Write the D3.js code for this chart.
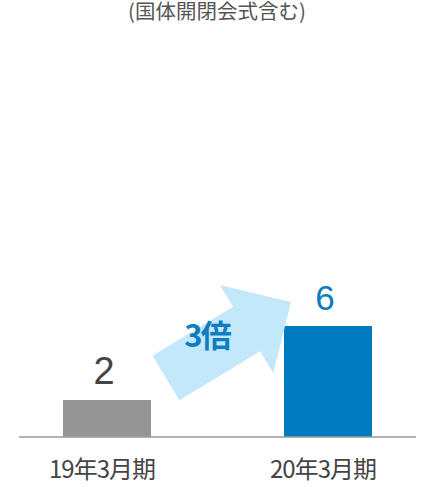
<!DOCTYPE html>
<html><head><meta charset="utf-8">
<script src="https://cdn.jsdelivr.net/npm/d3@7"></script>
<style>html,body{margin:0;padding:0;background:#fff;}svg{display:block;}</style>
</head><body>
<svg id="chart" width="425" height="487"></svg>
<script>
const categories = ["19年3月期", "20年3月期"];
const values = [2, 6];
const valueLabels = ["2", "6"];
const barColors = ["#959595", "#007bbf"];
const subtitle = "(国体開閉会式含む)";
const ratioLabel = "3倍";

const W = 425, H = 487;
const svg = d3.select("#chart");
const jp = "'Noto Sans CJK JP', 'Liberation Sans', sans-serif";
const num = "'Liberation Sans', 'Noto Sans CJK JP', sans-serif";

const baseY = 437;
const x = d3.scaleBand().domain(categories).range([63, 372]).paddingInner(0.6018).paddingOuter(0);
const y = d3.scaleLinear().domain([0, 6]).range([baseY, 326]);

// subtitle
svg.append("text").attr("x", 217).attr("y", 19).attr("text-anchor", "middle")
  .attr("font-family", jp).attr("font-size", 20.5).attr("fill", "#555").text(subtitle);

// bars
svg.selectAll("rect.bar").data(values).join("rect").attr("class", "bar")
  .attr("x", (d, i) => x(categories[i])).attr("width", x.bandwidth())
  .attr("y", d => y(d)).attr("height", d => baseY - y(d))
  .attr("fill", (d, i) => barColors[i]);

// axis line
svg.append("line").attr("x1", 19).attr("x2", 416).attr("y1", baseY).attr("y2", baseY)
  .attr("stroke", "#9a9a9a").attr("stroke-width", 1.5);

// value labels
svg.selectAll("text.val").data(values).join("text").attr("class", "val")
  .attr("x", (d, i) => x(categories[i]) + x.bandwidth() / 2 - 3)
  .attr("y", d => y(d) - 16)
  .attr("text-anchor", "middle").attr("font-family", num)
  .attr("font-size", (d, i) => i === 0 ? 38 : 35)
  .attr("fill", (d, i) => i === 0 ? "#444" : "#0a7cc0")
  .text((d, i) => valueLabels[i]);

// category labels
svg.selectAll("text.cat").data(categories).join("text").attr("class", "cat")
  .attr("x", d => x(d) + x.bandwidth() / 2 - 5).attr("y", 478)
  .attr("text-anchor", "middle").attr("font-family", jp).attr("font-size", 24)
  .attr("letter-spacing", -1).attr("fill", "#444").text(d => d);

// arrow (derived from bar positions)
const tail = [x(categories[0]) + x.bandwidth() + 15, y(values[0]) - 22];
const tip = [x(categories[1]) + 7, y(values[1]) - 24];
const dx = tip[0] - tail[0], dy = tip[1] - tail[1];
const len = Math.hypot(dx, dy), ang = Math.atan2(dy, dx) * 180 / Math.PI;
const shaftW = 52, headW = 103, headL = 52;
const pts = [[0, -shaftW / 2], [len - headL, -shaftW / 2], [len - headL, -headW / 2], [len, 0],
  [len - headL, headW / 2], [len - headL, shaftW / 2], [0, shaftW / 2]];
svg.append("polygon")
  .attr("transform", `translate(${tail[0]},${tail[1]}) rotate(${ang})`)
  .attr("points", pts.map(p => p.join(",")).join(" "))
  .attr("fill", "#c3e7fb");

svg.append("text").attr("x", 207).attr("y", 347).attr("text-anchor", "middle")
  .attr("font-family", jp).attr("font-weight", "bold").attr("font-size", 31)
  .attr("letter-spacing", -2).attr("fill", "#0f7dc2").text(ratioLabel);
</script>
</body></html>
